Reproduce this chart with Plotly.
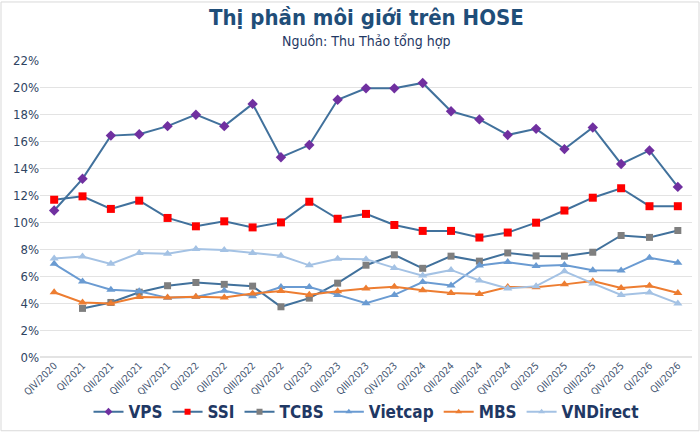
import plotly.graph_objects as go

quarters = ["QIV/2020", "QI/2021", "QII/2021", "QIII/2021", "QIV/2021", "QI/2022", "QII/2022",
            "QIII/2022", "QIV/2022", "QI/2023", "QII/2023", "QIII/2023", "QIV/2023", "QI/2024",
            "QII/2024", "QIII/2024", "QIV/2024", "QI/2025", "QII/2025", "QIII/2025", "QIV/2025",
            "QI/2026", "QII/2026"]

vps = [10.85, 13.2, 16.4, 16.5, 17.1, 17.95, 17.1, 18.75, 14.8, 15.7, 19.05, 19.9, 19.9, 20.3,
       18.2, 17.6, 16.45, 16.9, 15.4, 17.0, 14.3, 15.3, 12.6]
ssi = [11.65, 11.9, 10.97, 11.58, 10.3, 9.68, 10.05, 9.6, 9.97, 11.5, 10.24, 10.6, 9.78, 9.34,
       9.34, 8.85, 9.22, 9.95, 10.85, 11.8, 12.5, 11.17, 11.17]
tcbs = [None, 3.6, 4.04, 4.8, 5.28, 5.52, 5.38, 5.25, 3.72, 4.36, 5.47, 6.8, 7.57, 6.57, 7.47,
        7.1, 7.71, 7.49, 7.47, 7.76, 9.0, 8.86, 9.37]
vietcap = [6.9, 5.6, 4.99, 4.87, 4.38, 4.45, 4.91, 4.5, 5.18, 5.18, 4.6, 3.99, 4.6, 5.55, 5.3,
           6.78, 7.03, 6.74, 6.81, 6.42, 6.4, 7.35, 6.98]
mbs = [4.8, 4.04, 3.97, 4.45, 4.4, 4.47, 4.4, 4.7, 4.89, 4.62, 4.87, 5.08, 5.2, 4.94, 4.74,
       4.67, 5.18, 5.16, 5.38, 5.62, 5.11, 5.28, 4.74]
vndirect = [7.3, 7.45, 6.9, 7.7, 7.64, 8.0, 7.93, 7.7, 7.5, 6.79, 7.28, 7.25, 6.6, 6.03, 6.45,
            5.67, 5.08, 5.25, 6.35, 5.45, 4.6, 4.77, 3.97]

y_ticks = [0, 2, 4, 6, 8, 10, 12, 14, 16, 18, 20, 22]

series = [
    ("VPS", vps, "#41719C", "#7030A0", "diamond", 8),
    ("SSI", ssi, "#41719C", "#FF0000", "square", 8),
    ("TCBS", tcbs, "#41719C", "#7F7F7F", "square", 7),
    ("Vietcap", vietcap, "#6A9BD2", "#6A9BD2", "triangle-up", 8),
    ("MBS", mbs, "#ED7D31", "#ED7D31", "triangle-up", 8),
    ("VNDirect", vndirect, "#A4C2E4", "#A4C2E4", "triangle-up", 8),
]

fig = go.Figure()
for name, vals, lc, mc, sym, ms in series:
    fig.add_trace(go.Scatter(
        x=quarters, y=[None if v is None else v / 100 for v in vals],
        name=name, mode="lines+markers", showlegend=False,
        line=dict(color=lc, width=2),
        marker=dict(color=mc, symbol=sym, size=ms, line=dict(width=0)),
    ))
# legend entries with smaller symbols, as in the reference
for name, vals, lc, mc, sym, ms in series:
    fig.add_trace(go.Scatter(
        x=[None], y=[None], name=f"<b>{name}</b>", mode="lines+markers",
        line=dict(color=lc, width=2),
        marker=dict(color=mc, symbol=sym, size=6, line=dict(width=0)),
    ))

font_family = "DejaVu Sans Condensed, DejaVu Sans, sans-serif"
W_plot = 700 - 40 - 8
H_plot = 362 - 60

fig.update_layout(
    width=700, height=438,
    margin=dict(l=40, r=8, t=60, b=76),
    paper_bgcolor="white", plot_bgcolor="white",
    font=dict(family=font_family, color="#2F4462"),
    showlegend=True,
    legend=dict(orientation="h", x=0.5, xanchor="center", y=-0.125, yanchor="top",
                font=dict(size=17, color="#1F3864", family=font_family),
                itemwidth=30, tracegroupgap=0),
    xaxis=dict(type="category", categoryorder="array", categoryarray=quarters,
               range=[-0.5, len(quarters) - 0.5],
               tickangle=-45, tickfont=dict(size=10, color="#3F5470"),
               showgrid=False, showline=False, zeroline=False, ticks=""),
    yaxis=dict(range=[0, 0.22], tickvals=[t / 100 for t in y_ticks],
               ticktext=[f"{t}%" for t in y_ticks],
               tickfont=dict(size=13, color="#2F4462"),
               showgrid=True, gridcolor="#E3E3E3", gridwidth=1,
               zeroline=True, zerolinecolor="#E3E3E3", showline=False, ticks=""),
    annotations=[
        dict(text="<b>Thị phần môi giới trên HOSE</b>", xref="paper", yref="paper",
             x=0.5, y=1 + 43 / H_plot, xanchor="center", yanchor="middle", showarrow=False,
             font=dict(size=22, color="#1F4E79", family=font_family)),
        dict(text="Nguồn: Thu Thảo tổng hợp", xref="paper", yref="paper",
             x=0.5, y=1 + 19 / H_plot, xanchor="center", yanchor="middle", showarrow=False,
             font=dict(size=14, color="#1F3864", family=font_family)),
    ],
    shapes=[dict(type="rect", xref="paper", yref="paper",
                 x0=-39 / W_plot, x1=1 + 7 / W_plot, y0=-75 / H_plot, y1=1 + 59 / H_plot,
                 line=dict(color="#D9D9D9", width=1), fillcolor="rgba(0,0,0,0)", layer="below")],
)

fig.write_html("out.html")
